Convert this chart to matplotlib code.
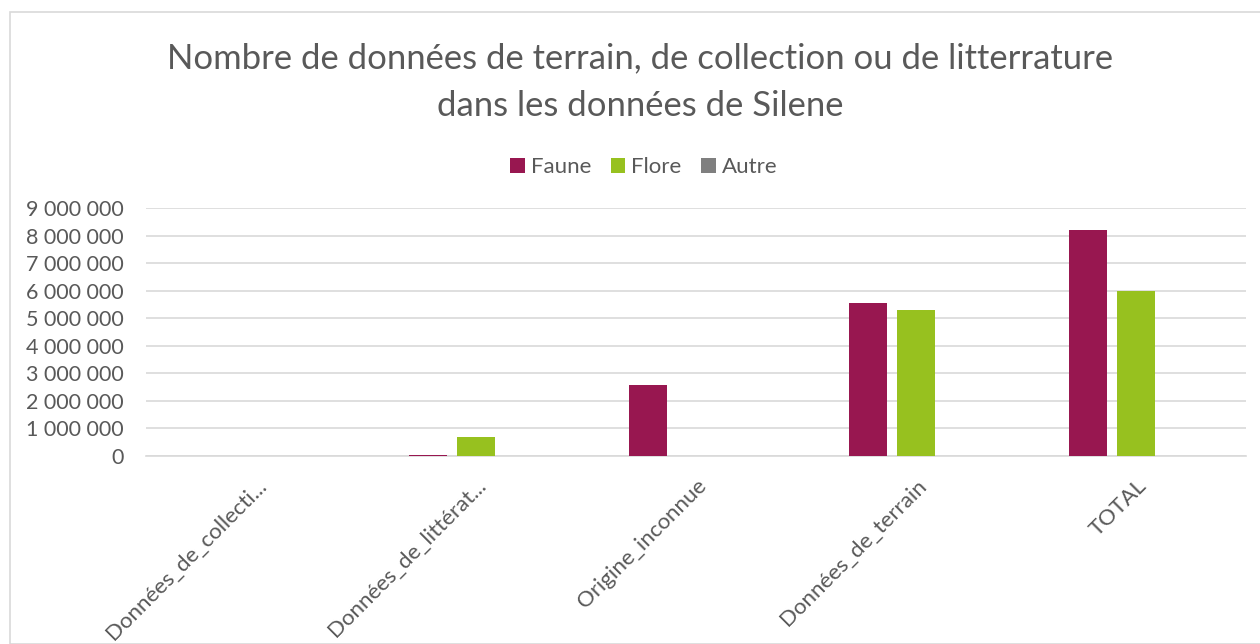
import matplotlib.pyplot as plt
from matplotlib.patches import Rectangle
from matplotlib.ticker import FuncFormatter, MultipleLocator
import numpy as np

plt.rcParams['font.family'] = ['Lato', 'DejaVu Sans']

categories = ['Données_de_collecti...', 'Données_de_littérat...', 'Origine_inconnue',
              'Données_de_terrain', 'TOTAL']
faune = [5000, 25000, 2570000, 5550000, 8210000]
flore = [3000, 690000, 2000, 5290000, 5980000]
autre = [0, 0, 0, 0, 0]

series = [('Faune', faune, '#981750'), ('Flore', flore, '#97c11f'), ('Autre', autre, '#7f7f7f')]
grey = '#595959'

fig = plt.figure(figsize=(12.6, 6.44), dpi=100)
fig.patches.append(Rectangle((10 / 1260, 0), 1.0, 1 - 12 / 644, transform=fig.transFigure,
                             fill=False, edgecolor='#d9d9d9', linewidth=1.2))

ax = fig.add_axes([146 / 1260, 1 - 456 / 644, 1100 / 1260, 248 / 644])

x = np.arange(len(categories))
width = 38 / 220
step = 48 / 220
for i, (name, vals, col) in enumerate(series):
    ax.bar(x + (i - 1) * step, vals, width, color=col, label=name, zorder=3)

ax.set_xlim(-0.5, len(categories) - 0.5)
ax.set_ylim(0, 9000000)
ax.yaxis.set_major_locator(MultipleLocator(1000000))
ax.yaxis.set_major_formatter(FuncFormatter(lambda v, p: f'{int(v):,}'.replace(',', ' ')))
ax.grid(axis='y', color='#d9d9d9', linewidth=1.2, zorder=0)
for s in ['top', 'right', 'left']:
    ax.spines[s].set_visible(False)
ax.spines['bottom'].set_color('#d9d9d9')
ax.spines['bottom'].set_linewidth(1.2)
ax.tick_params(length=0, colors=grey, labelsize=15.5)
ax.tick_params(axis='y', pad=16)
ax.tick_params(axis='x', pad=14)

ax.set_xticks(x)
ax.set_xticklabels(categories, rotation=45, ha='right', va='top', rotation_mode='anchor', fontsize=16)
for lbl in ax.get_xticklabels():
    lbl.set_color(grey)

fig.text(0.508, 1 - 82 / 644, 'Nombre de données de terrain, de collection ou de litterrature\ndans les données de Silene',
         ha='center', va='center', fontsize=24.9, color=grey, linespacing=1.6)

leg = fig.legend(loc='center', bbox_to_anchor=(0.511, 1 - 167 / 644), ncol=3, frameon=False,
                 fontsize=16, handlelength=0.64, handleheight=0.64, handletextpad=0.27, columnspacing=0.9)
for t in leg.get_texts():
    t.set_color(grey)

fig.savefig('out.png', dpi=100)
